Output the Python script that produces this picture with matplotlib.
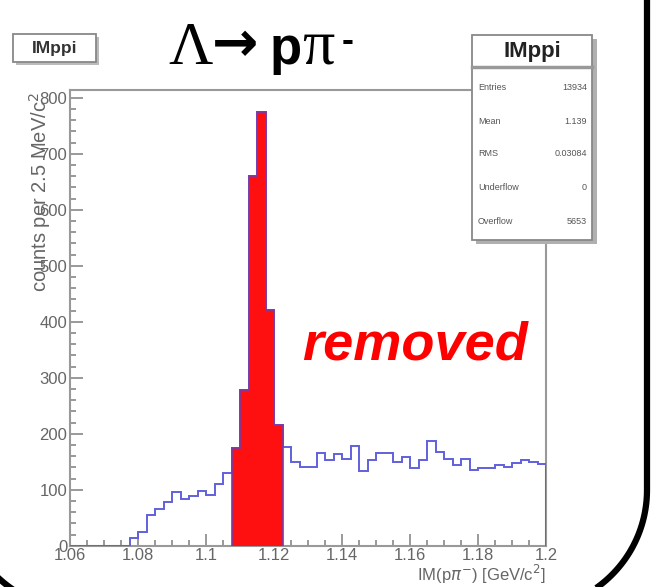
import numpy as np
import matplotlib
matplotlib.use("Agg")
import matplotlib.pyplot as plt
from matplotlib.patches import Rectangle
from matplotlib.ticker import MultipleLocator

# ---- data ----
bin_edges = np.round(np.arange(1.06, 1.2001, 0.0025), 4)
counts = [0, 0, 0, 0, 0, 0, 0,
          13, 24, 55, 65, 78, 96, 83, 88, 98, 90, 111, 130,
          174, 278, 660, 775, 421, 215,
          177, 150, 140, 140, 166, 153, 163, 154, 178, 133, 153, 165, 165, 150, 159,
          138, 153, 187, 168, 154, 144, 154, 135, 138, 138, 144, 140, 147, 153, 150, 146]
sel_lo, sel_hi = 19, 25  # removed (red) bins
x_ticks = [1.06, 1.08, 1.1, 1.12, 1.14, 1.16, 1.18, 1.2]
x_tick_labels = ["1.06", "1.08", "1.1", "1.12", "1.14", "1.16", "1.18", "1.2"]
y_ticks = [0, 100, 200, 300, 400, 500, 600, 700, 800]
stat_names = ["Entries", "Mean", "RMS", "Underflow", "Overflow"]
stat_values = ["13934", "1.139", "0.03084", "0", "5653"]

W, H = 657, 587
fig = plt.figure(figsize=(W / 100, H / 100), dpi=100)
fig.patch.set_facecolor("white")

def fx(x):
    return x / W

def fy(y):
    return 1 - y / H

# ---- main axes ----
L, R, T, B = 70, 546, 90, 545.7
ax = fig.add_axes([fx(L), fy(B), (R - L) / W, (B - T) / H])
counts_arr = np.array(counts, dtype=float)
line_col = "#6060dc"
ax.stairs(counts_arr, bin_edges, color=line_col, lw=1.4, zorder=3)
ax.stairs(counts_arr[sel_lo:sel_hi], bin_edges[sel_lo:sel_hi + 1], fill=True,
          facecolor="#ff1010", edgecolor="#7a3aa8", lw=1.2, zorder=4)
ax.set_xlim(1.06, 1.2)
ax.set_ylim(0, 814)
ax.set_xticks(x_ticks)
ax.set_xticklabels(x_tick_labels)
ax.set_yticks(y_ticks)
ax.xaxis.set_minor_locator(MultipleLocator(0.005))
ax.yaxis.set_minor_locator(MultipleLocator(20))
ax.tick_params(which="both", direction="in", colors="#888888", labelcolor="#666666",
               top=False, right=False, labelsize=12, width=1.2)
ax.tick_params(which="major", length=9, pad=2)
ax.tick_params(which="minor", length=4.5)
for lab in ax.get_xticklabels() + ax.get_yticklabels():
    lab.set_fontfamily("Liberation Sans")
for s in ax.spines.values():
    s.set_color("#999999")
    s.set_linewidth(1.5)

# ---- overlay axes in pixel coordinates ----
ov = fig.add_axes([0, 0, 1, 1], zorder=10)
ov.set_xlim(0, W)
ov.set_ylim(H, 0)
ov.axis("off")
ov.patch.set_alpha(0)

# axis titles
ov.text(40, 92, "counts per 2.5 MeV/c$^2$", rotation=90, ha="center", va="top",
        fontsize=14.5, color="#666666", family="Liberation Sans")
ov.text(546, 574, "IM(p$\\pi^{-}$) [GeV/c$^2$]", ha="right", va="center",
        fontsize=12, color="#666666", family="Liberation Sans")

# left title box
ov.add_patch(Rectangle((16, 37), 83, 28, facecolor="#bbbbbb", edgecolor="none"))
ov.add_patch(Rectangle((13, 34), 83, 28, facecolor="white", edgecolor="#888888", lw=1.3))
ov.text(54.5, 48.5, "IMppi", ha="center", va="center", fontsize=12.5, fontweight="bold",
        color="#333333", family="Liberation Sans")

# stat box
ov.add_patch(Rectangle((476, 39), 121, 205, facecolor="#b0b0b0", edgecolor="none"))
ov.add_patch(Rectangle((472, 35), 120, 205, facecolor="white", edgecolor="#888888", lw=1.3))
ov.plot([472, 592], [67, 67], color="#999999", lw=2.5)
ov.text(532, 51, "IMppi", ha="center", va="center", fontsize=16, fontweight="bold",
        color="#222222", family="Liberation Sans")
row_y = [88, 121, 154, 188, 221]
for name, val, yy in zip(stat_names, stat_values, row_y):
    ov.text(478, yy, name, ha="left", va="center", fontsize=6.5, color="#555555",
            family="Liberation Sans")
    ov.text(587, yy, val, ha="right", va="center", fontsize=6.5, color="#555555",
            family="Liberation Sans")

# big reaction label
ov.text(168, 64, "\u039B", ha="left", va="baseline", fontsize=44, color="black",
        family="Liberation Serif")
ov.text(212, 61, "\u2192", ha="left", va="baseline", fontsize=40, fontweight="bold",
        color="black", family="DejaVu Sans")
ov.text(270, 64, "p", ha="left", va="baseline", fontsize=38, fontweight="bold",
        color="black", family="Liberation Sans")
ov.text(302, 64, "\u03C0", ha="left", va="baseline", fontsize=46, color="black",
        family="Liberation Serif")
ov.text(342, 42, "-", ha="left", va="center", fontsize=26, fontweight="bold",
        color="black", family="Liberation Sans")

# removed label
ov.text(415, 345, "removed", ha="center", va="center", fontsize=39, fontweight="bold",
        fontstyle="italic", color="#ff0000", family="Liberation Sans")

# slide rounded border (right and bottom-left corner)
r = 120
xr, xl, yb = 647, -40, 610
t = np.linspace(0, np.pi / 2, 60)
right_x = np.concatenate([[xr, xr], (xr - r) + r * np.cos(t)])
right_y = np.concatenate([[-10, yb - r], (yb - r) + r * np.sin(t)])
ov.plot(right_x, right_y, color="black", lw=4.5, solid_capstyle="butt", clip_on=False)
left_x = (xl + r) - r * np.cos(t)
left_y = (yb - r) + r * np.sin(t)
ov.plot(left_x, left_y, color="black", lw=4.5, clip_on=False)

fig.savefig("out.png", dpi=100)
